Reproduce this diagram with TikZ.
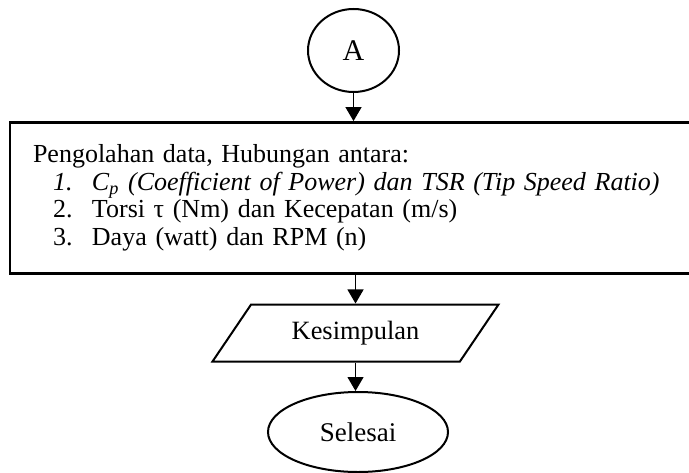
\documentclass[tikz,border=0pt]{standalone}
\usepackage{fontspec}
\setmainfont{Liberation Serif}
\usepackage{tikz}
\usetikzlibrary{positioning, shapes.geometric, arrows.meta}

\begin{document}
\begin{tikzpicture}[
  x=0.5pt, y=0.5pt,
  conn/.style={ellipse, draw, line width=1pt, minimum width=45.5pt, minimum height=41.5pt, inner sep=0pt, font=\fontsize{15}{17}\selectfont},
  procbox/.style={rectangle, draw, line width=1.4pt, minimum height=75.5pt, text width=337pt, inner xsep=11.5pt, align=left, font=\fontsize{13}{13.75}\selectfont},
  iobox/.style={trapezium, trapezium left angle=44, trapezium right angle=136, trapezium stretches body, draw, line width=1pt, minimum width=143pt, minimum height=28.5pt, font=\fontsize{13.2}{15}\selectfont},
  endbox/.style={ellipse, draw, line width=1pt, minimum width=90pt, minimum height=40pt, font=\fontsize{13.5}{15}\selectfont},
  arrow/.style={-{Triangle[length=7pt, width=8pt]}, line width=0.6pt}
]
\useasboundingbox (0,0) rectangle (689,472);

% Connector
\node[conn] (conA) at (353.5,421.5) {A};

% Process
\node[procbox] (olah) at (370,274) {Pengolahan data, Hubungan antara:\\
  \hspace*{10pt}\makebox[19.5pt][l]{\itshape 1.}\textit{C\textsubscript{p} (Coefficient of Power) dan TSR (Tip Speed Ratio)}\\
  \hspace*{10pt}\makebox[19.5pt][l]{2.}Torsi τ (Nm) dan Kecepatan (m/s)\\
  \hspace*{10pt}\makebox[19.5pt][l]{3.}Daya (watt) dan RPM (n)};

% Output + end
\node[iobox] (simpul) at (355.5,139) {Kesimpulan};
\node[endbox] (selesai) at (358,40) {Selesai};

% Arrows
\draw[arrow] (conA.south) -- (conA.south |- olah.north);
\draw[arrow] (simpul.north |- olah.south) -- (simpul.north);
\draw[arrow] (simpul.south) -- (simpul.south |- selesai.north);

\end{tikzpicture}
\end{document}
